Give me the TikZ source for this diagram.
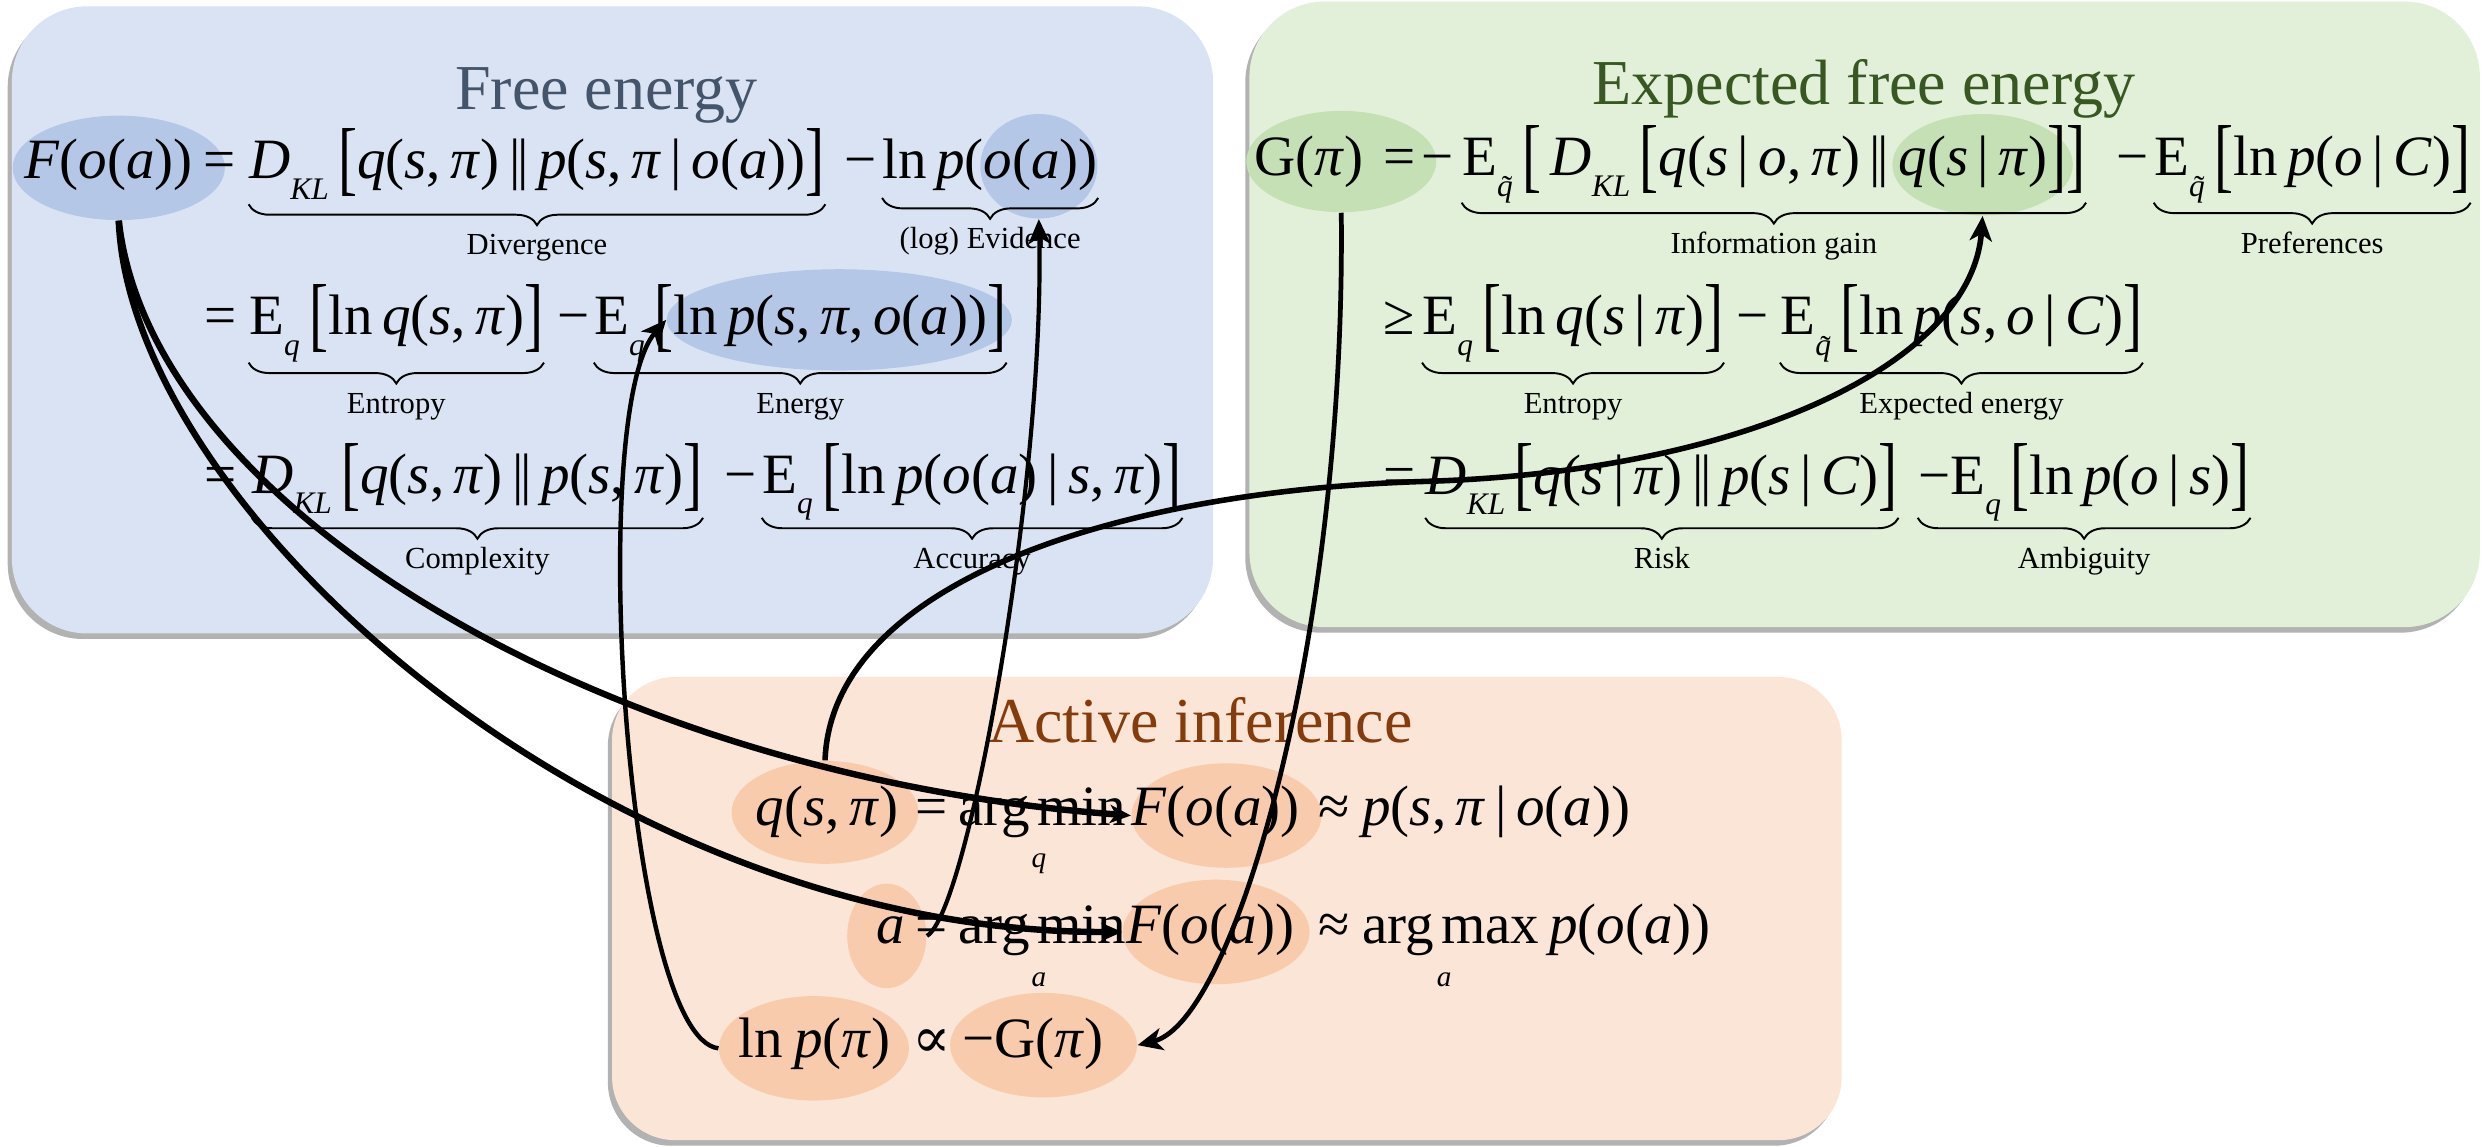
\documentclass[tikz,border=0pt]{standalone}
\usepackage{fontspec}
\setmainfont{Liberation Serif}
\newfontfamily\symfam{DejaVu Serif}
\usepackage{graphicx}
\usetikzlibrary{shapes.geometric,decorations.pathreplacing,arrows.meta,shadows}
\definecolor{bluebg}{HTML}{DAE3F3}
\definecolor{bluehl}{HTML}{B4C7E7}
\definecolor{bluetitle}{HTML}{44546A}
\definecolor{greenbg}{HTML}{E2F0D9}
\definecolor{greenhl}{HTML}{C5E0B4}
\definecolor{greentitle}{HTML}{385723}
\definecolor{orangebg}{HTML}{FBE5D6}
\definecolor{orangehl}{HTML}{F8CBAD}
\definecolor{orangetitle}{HTML}{843C0C}
\newcommand\vi[1]{\textit{#1}}
\newcommand\sbs[1]{\raisebox{-0.36em}{\scalebox{0.55}{#1}}}
\newcommand\lbk{\raisebox{-0.12em}{\scalebox{1}[1.44]{[}}}
\newcommand\rbk{\raisebox{-0.12em}{\scalebox{1}[1.44]{]}}}
\newcommand\parl{\,|\kern-0.06em|\,}
\newcommand\gv{\,|\,}
\newcommand\tq{\ooalign{\vi{q}\cr\hidewidth\kern0.15em\raisebox{-0.05em}{˜}\hidewidth\cr}}
\begin{document}
\begin{tikzpicture}[x=0.02cm,y=-0.02cm,
  box/.style={rounded corners=0.95cm, drop shadow={shadow xshift=-1.5pt, shadow yshift=-2pt, opacity=0.3, fill=black}},
  hl/.style={ellipse, inner sep=0pt, draw=none},
  eq/.style={inner sep=0pt, anchor=base west, font=\fontsize{20.5}{22}\selectfont},
  ttl/.style={anchor=base, inner sep=0pt, font=\fontsize{23}{26}\selectfont},
  lbl/.style={anchor=base, inner sep=0pt, font=\fontsize{11}{13}\selectfont, yshift=-0.64cm},
  sub/.style={anchor=base, inner sep=0pt, font=\fontsize{10.5}{12}\selectfont},
  ubrace/.style={decorate, decoration={brace, mirror, amplitude=7.5pt}, line width=0.7pt},
  arr/.style={line width=1.6pt, -{Stealth[length=9pt,width=8pt,inset=2.5pt]}},
  tarr/.style={line width=2.3pt, -{Stealth[length=7.5pt,width=6.5pt,inset=2pt]}},
]
\fill[white] (0,0) rectangle (1568,724);
\useasboundingbox (0,0) rectangle (1568,724);

% boxes
\path[box, fill=bluebg] (7.5,4) rectangle (766,400);
\path[box, fill=greenbg] (789,1) rectangle (1566,396);
\path[box, fill=orangebg, rounded corners=0.8cm] (386.5,427.5) rectangle (1163,720);

% highlight ellipses
\node[hl, fill=bluehl, minimum width=2.68cm, minimum height=1.32cm] (eF) at (75,106) {};
\node[hl, fill=bluehl, minimum width=1.48cm, minimum height=1.32cm] (eEv) at (656,105) {};
\node[hl, fill=bluehl, minimum width=4.36cm, minimum height=1.28cm] (eEn) at (530,202) {};
\node[hl, fill=greenhl, minimum width=2.4cm, minimum height=1.28cm] (eG) at (847,102) {};
\node[hl, fill=greenhl, minimum width=2.28cm, minimum height=1.28cm] (eQ) at (1252,104) {};
\node[hl, fill=orangehl, minimum width=2.36cm, minimum height=1.3cm] (oq) at (521,513) {};
\node[hl, fill=orangehl, minimum width=2.4cm, minimum height=1.32cm] (oF1) at (774.5,515) {};
\node[hl, fill=orangehl, minimum width=1.0cm, minimum height=1.32cm] (oa) at (560,591) {};
\node[hl, fill=orangehl, minimum width=2.36cm, minimum height=1.32cm] (oF2) at (768,588.5) {};
\node[hl, fill=orangehl, minimum width=2.4cm, minimum height=1.32cm] (oln) at (514,662) {};
\node[hl, fill=orangehl, minimum width=2.36cm, minimum height=1.32cm] (oG) at (659,660) {};

% titles
\node[ttl, text=bluetitle] (t1) at (383,69) {Free energy};
\node[ttl, text=greentitle] (t2) at (1177,66) {Expected free energy};
\node[ttl, text=orangetitle] (t3) at (758,469) {Active inference};

% ---- Free energy rows
\node[eq] (b1a) at (15,113) {\vi{F}(\vi{o}(\vi{a}))};
\node[eq] (b1e) at (128,113) {=};
\node[eq] (b1b) at (157,113) {\vi{D}\sbs{\vi{KL}}\,\lbk\vi{q}(\vi{s},\,\vi{π})\parl\vi{p}(\vi{s},\,\vi{π}\gv\vi{o}(\vi{a}))\rbk};
\node[eq] (b1m) at (533,113) {−};
\node[eq] (b1c) at (557,113) {ln\kern0.16em\vi{p}(\vi{o}(\vi{a}))};

\node[eq] (b2e) at (129,211.5) {=};
\node[eq] (b2a) at (157,211.5) {E\sbs{\vi{q}}\,\lbk ln\,\vi{q}(\vi{s},\,\vi{π})\rbk};
\node[eq] (b2m) at (352,211.5) {−};
\node[eq] (b2b) at (375,211.5) {E\sbs{\vi{q}}\,\lbk ln\,\vi{p}(\vi{s},\,\vi{π},\,\vi{o}(\vi{a}))\rbk};

\node[eq] (b3e) at (129,311.5) {=};
\node[eq] (b3a) at (159,311.5) {\vi{D}\sbs{\vi{KL}}\,\lbk\vi{q}(\vi{s},\,\vi{π})\parl\vi{p}(\vi{s},\,\vi{π})\rbk};
\node[eq] (b3m) at (457,311.5) {−};
\node[eq] (b3b) at (481,311.5) {E\sbs{\vi{q}}\,\lbk ln\,\vi{p}(\vi{o}(\vi{a})\gv\vi{s},\,\vi{π})\rbk};

\draw[ubrace] (b1b.west |- 0,129) -- node[lbl] {Divergence} (b1b.east |- 0,129);
\draw[ubrace] (b1c.west |- 0,125) -- node[lbl] {(log) Evidence} (b1c.east |- 0,125);
\draw[ubrace] (b2a.west |- 0,229) -- node[lbl] {Entropy} (b2a.east |- 0,229);
\draw[ubrace] (b2b.west |- 0,229) -- node[lbl] {Energy} (b2b.east |- 0,229);
\draw[ubrace] (b3a.west |- 0,327) -- node[lbl] {Complexity} (b3a.east |- 0,327);
\draw[ubrace] (b3b.west |- 0,327) -- node[lbl] {Accuracy} (b3b.east |- 0,327);

% ---- Expected free energy rows
\node[eq] (g1a) at (792,111) {G(\vi{π})};
\node[eq] (g1e) at (873,111) {=};
\node[eq] (g1n) at (897,111) {−};
\node[eq] (g1b) at (923,111) {E\sbs{\tq}\,\lbk\,\vi{D}\sbs{\vi{KL}}\,\lbk\vi{q}(\vi{s}\gv\vi{o},\,\vi{π})\parl\vi{q}(\vi{s}\gv\vi{π})\rbk\rbk};
\node[eq] (g1m) at (1336,111) {−};
\node[eq] (g1c) at (1360,111) {E\sbs{\tq}\,\lbk ln\,\vi{p}(\vi{o}\gv\vi{C})\rbk};

\node[eq] (g2e) at (873,211.5) {≥};
\node[eq] (g2a) at (898,211.5) {E\sbs{\vi{q}}\,\lbk ln\,\vi{q}(\vi{s}\gv\vi{π})\rbk};
\node[eq] (g2m) at (1096,211.5) {−};
\node[eq] (g2b) at (1124,211.5) {E\sbs{\tq}\,\lbk ln\,\vi{p}(\vi{s},\,\vi{o}\gv\vi{C})\rbk};

\node[eq] (g3e) at (873,312) {=};
\node[eq] (g3a) at (900,312) {\vi{D}\sbs{\vi{KL}}\,\lbk\vi{q}(\vi{s}\gv\vi{π})\parl\vi{p}(\vi{s}\gv\vi{C})\rbk};
\node[eq] (g3b) at (1211,312) {−E\sbs{\vi{q}}\,\lbk ln\,\vi{p}(\vi{o}\gv\vi{s})\rbk};

\draw[ubrace] (g1b.west |- 0,128) -- node[lbl] {Information gain} (g1b.east |- 0,128);
\draw[ubrace] (g1c.west |- 0,128) -- node[lbl] {Preferences} (g1c.east |- 0,128);
\draw[ubrace] (g2a.west |- 0,229) -- node[lbl] {Entropy} (g2a.east |- 0,229);
\draw[ubrace] (g2b.west |- 0,229) -- node[lbl] {Expected energy} (g2b.east |- 0,229);
\draw[ubrace] (g3a.west |- 0,327) -- node[lbl] {Risk} (g3a.east |- 0,327);
\draw[ubrace] (g3b.west |- 0,327) -- node[lbl] {Ambiguity} (g3b.east |- 0,327);

% ---- Active inference rows
\node[eq] (o1a) at (477,521) {\vi{q}(\vi{s},\,\vi{π})};
\node[eq] (o1e) at (578,521) {=};
\node[eq] (o1m) at (605,521) {arg\kern0.12em min};
\node[sub] (o1s) at (656,548) {\vi{q}};
\node[eq] (o1c) at (714,521) {\vi{F}(\vi{o}(\vi{a}))};
\node[eq] (o1x) at (832,521) {≈};
\node[eq] (o1d) at (860,521) {\vi{p}(\vi{s},\,\vi{π}\gv\vi{o}(\vi{a}))};

\node[eq] (o2a) at (553,596) {\vi{a}};
\node[eq] (o2e) at (578,596) {=};
\node[eq] (o2m) at (605,596) {arg\kern0.12em min};
\node[sub] (o2s) at (656,623) {\vi{a}};
\node[eq] (o2c) at (711,596) {\vi{F}(\vi{o}(\vi{a}))};
\node[eq] (o2x) at (832,596) {≈};
\node[eq] (o2d) at (860,596) {arg\kern0.12em max};
\node[sub] (o2t) at (912,623) {\vi{a}};
\node[eq] (o2f) at (978,596) {\vi{p}(\vi{o}(\vi{a}))};

\node[eq] (o3a) at (466,668) {ln\kern0.2em\vi{p}(\vi{π})};
\node[eq] (o3x) at (576,668) {{\symfam ∝}};
\node[eq] (o3b) at (607.5,668) {−G(\vi{π})};

% ---- connectors
\coordinate (w6) at (900,304);
\draw[tarr] (eF.south) .. controls (95,320) and (380,490) .. (oF1.west);
\draw[tarr] (eF.south) .. controls (82,320) and (380,590) .. (oF2.west);
\draw[arr] (oln.west) .. controls (395,655) and (370,260) .. (eEn.west);
\draw[arr, line width=1.5pt] (oa.east) .. controls (612,575) and (660,300) .. (eEv.south);
\draw[arr, line width=1.7pt] (eG.south) .. controls (850,400) and (780,645) .. (oG.east);
\draw[arr, line width=2pt] (oq.north) .. controls (525,370) and (700,310) .. (w6) .. controls (1100,298) and (1245,230) .. (eQ.south);
\end{tikzpicture}
\end{document}
